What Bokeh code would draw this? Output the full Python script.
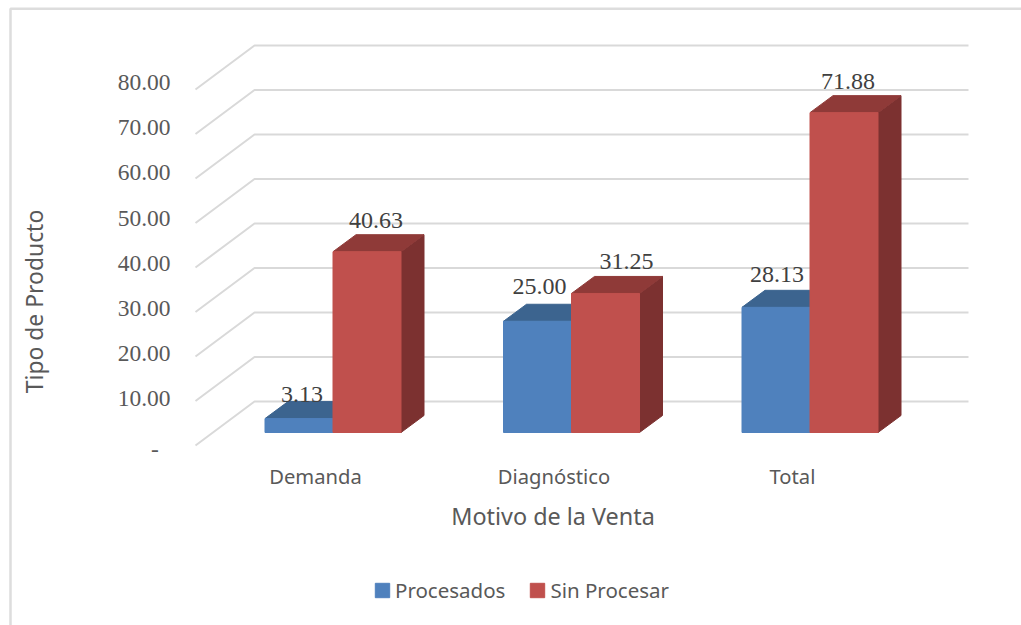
from bokeh.plotting import figure
from bokeh.models import (Range1d, LinearAxis, FixedTicker, Label, Legend, LegendItem,
                          ColumnDataSource)
from bokeh.core.properties import value
from bokeh.embed import file_html
from bokeh.resources import INLINE

# ---- data ----
categories = ["Demanda", "Diagnóstico", "Total"]
procesados = [3.13, 25.00, 28.13]
sin_procesar = [40.63, 31.25, 71.88]
y_ticks = [0, 10, 20, 30, 40, 50, 60, 70, 80]
y_tick_labels = ["-\u00a0\u00a0", "10.00", "20.00", "30.00", "40.00", "50.00", "60.00", "70.00", "80.00"]
label_procesados = ["3.13", "25.00", "28.13"]
label_sin_procesar = ["40.63", "31.25", "71.88"]

# ---- layout (pixels of the page) ----
W, H = 1021, 625
PAGE = 0
PX_CAT = 238.5      # pixels per category
PX_VAL = 4.45       # pixels per unit of value
X0, Y0 = 332.5, 432 # page pixel of category 0 / value 0 at the bars' front
BAR = 68 / PX_CAT
DX, DY = 23 / PX_CAT, 17 / PX_VAL

def xd(px): return (px - X0) / PX_CAT
def yd(py): return (Y0 - py) / PX_VAL

SERIF = "Liberation Serif"
SANS = "Noto Sans"
GREY = "#595959"
BLUE, BLUE_TOP = "#4F81BD", "#3C648F"
RED, RED_TOP, RED_SIDE = "#C0504D", "#8F3A38", "#7C3130"

p = figure(width=W, height=H, output_backend="svg", toolbar_location=None,
           x_range=Range1d(xd(PAGE), xd(PAGE + W)),
           y_range=Range1d(yd(PAGE + H), yd(PAGE)),
           min_border=0, min_border_left=0, min_border_right=0, min_border_top=0, min_border_bottom=0,
           x_axis_type=None, y_axis_type=None, outline_line_color=None)
p.grid.visible = False

# outer chart frame (top and left edges only reach the page)
p.line([xd(10), xd(10), xd(PAGE + W)], [yd(PAGE + H), yd(8.3), yd(8.3)], line_color="#DDDDDD", line_width=2.5)

# back wall
wall_xs, wall_ys = [], []
for v in y_ticks:
    wall_xs.append([xd(195), xd(254), xd(968)])
    wall_ys.append([yd(445 - PX_VAL * v), yd(401 - PX_VAL * v), yd(401 - PX_VAL * v)])
p.multi_line(wall_xs, wall_ys, line_color="#D9D9D9", line_width=2)

# bars
def bar(idx, vals, left, front, top, side=None):
    xl = [i + left for i in idx]
    xr = [x + BAR for x in xl]
    if side:
        p.patches([[r, r + DX, r + DX, r] for r in xr],
                  [[0, DY, v + DY, v] for v in vals], fill_color=side, line_color=side)
    p.patches([[l, l + DX, r + DX, r] for l, r in zip(xl, xr)],
              [[v, v + DY, v + DY, v] for v in vals], fill_color=top, line_color=top)
    return p.vbar(x=[(l + r) / 2 for l, r in zip(xl, xr)], width=BAR, bottom=0, top=vals,
                  fill_color=front, line_color=front, line_width=1)

idx = list(range(len(categories)))
r_blue = bar(idx, procesados, -BAR, BLUE, BLUE_TOP)
r_red = bar(idx, sin_procesar, 0, RED, RED_TOP, RED_SIDE)

# data labels
lab_x = [i - BAR / 2 for i in idx] + [i + BAR / 2 for i in idx]
lab_y = procesados + sin_procesar
lab_t = label_procesados + label_sin_procesar
lab_dx = [3, 2, 1, 9, 21, 4]
lab_dy = [24, 35, 33, 31, 32, 31]
p.text(x="x", y="y", text="t", x_offset="dx", y_offset="dy",
       source=ColumnDataSource(dict(x=lab_x, y=lab_y, t=lab_t, dx=lab_dx, dy=[-d for d in lab_dy])),
       text_font=value(SERIF), text_font_size="24px", text_color="#404040",
       text_align="center", text_baseline="middle")

# value axis, inside the frame; the zero label sits a little under its line in the reference
ZERO_TICK = -1.4
tick_pos = [ZERO_TICK] + y_ticks[1:]
p.extra_y_ranges["ticks"] = Range1d((442.5 - (PAGE + H)) / 4.51, (442.5 - PAGE) / 4.51)
ya = LinearAxis(y_range_name="ticks", ticker=FixedTicker(ticks=tick_pos),
                major_label_overrides=dict(zip(tick_pos, y_tick_labels)),
                fixed_location=xd(182), axis_line_color=None,
                major_tick_line_color=None, minor_tick_line_color=None,
                major_label_standoff=6, major_label_text_font=SERIF,
                major_label_text_font_size="23.5px", major_label_text_color=GREY)
p.add_layout(ya, "left")

# category axis, inside the frame
p.extra_x_ranges["cats"] = Range1d((PAGE - 315) / PX_CAT, (PAGE + W - 315) / PX_CAT)
xa = LinearAxis(x_range_name="cats", ticker=FixedTicker(ticks=idx),
                major_label_overrides=dict(zip(idx, categories)),
                fixed_location=yd(453), axis_line_color=None,
                major_tick_line_color=None, minor_tick_line_color=None,
                major_label_standoff=2, major_label_text_font=SANS,
                major_label_text_font_size="20.2px", major_label_text_color=GREY)
p.add_layout(xa, "below")

# axis titles
p.add_layout(Label(x=xd(552.5), y=yd(515), text="Motivo de la Venta", text_font=SANS, text_font_size="23.4px",
                   text_color=GREY, text_align="center", text_baseline="middle"))
p.add_layout(Label(x=xd(34), y=yd(301), text="Tipo de Producto", text_font=SANS, text_font_size="22.9px",
                   text_color=GREY, text_align="center", text_baseline="middle", angle=90, angle_units="deg"))

# legend
legend = Legend(items=[LegendItem(label="Procesados", renderers=[r_blue]),
                       LegendItem(label="Sin Procesar", renderers=[r_red])],
                orientation="horizontal", location=(373, 21), padding=0, margin=0, spacing=23,
                glyph_width=18, glyph_height=18, label_standoff=4,
                label_text_font=SANS, label_text_font_size="20.5px", label_text_color=GREY,
                border_line_color=None, background_fill_alpha=0)
p.add_layout(legend, "center")

open("out.html", "w").write(file_html(p, INLINE))
